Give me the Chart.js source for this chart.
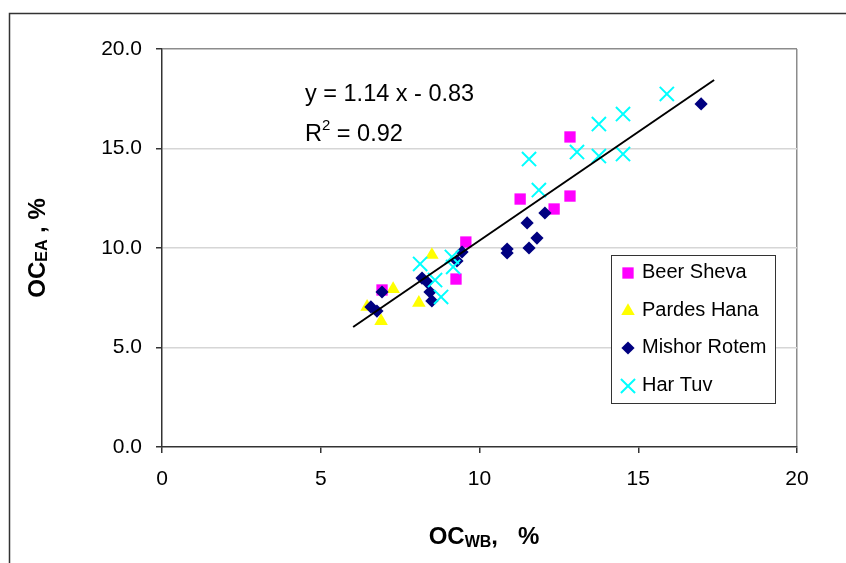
<!DOCTYPE html>
<html>
<head>
<meta charset="utf-8">
<script src="https://cdn.jsdelivr.net/npm/chart.js@4/dist/chart.umd.min.js"></script>
<style>
html,body{margin:0;padding:0;background:#fff;}
#wrap{width:846px;height:563px;position:relative;}
</style>
</head>
<body>
<div id="wrap"><canvas id="c" width="846" height="563"></canvas></div>
<script>
// ---- data ----
const beerShevaX = [6.93, 9.26, 9.57, 11.28, 12.35, 12.85, 12.85];
const beerShevaY = [7.89, 8.44, 10.3, 12.46, 11.96, 15.58, 12.61];

const pardesHanaX = [6.46, 6.9, 7.28, 8.09, 8.5];
const pardesHanaY = [7.04, 6.33, 7.94, 7.24, 9.65];

const mishorRotemX = [6.58, 6.77, 6.93, 8.19, 8.35, 8.44, 8.5, 9.29, 9.45, 10.87, 10.87, 11.5, 11.56, 11.81, 12.06, 16.98];
const mishorRotemY = [7.04, 6.83, 7.79, 8.49, 8.29, 7.79, 7.34, 9.35, 9.8, 9.95, 9.75, 11.26, 10.0, 10.5, 11.76, 17.24];

const harTuvX = [8.13, 8.6, 8.79, 9.13, 9.17, 11.56, 11.87, 13.07, 13.76, 13.76, 14.52, 14.52, 15.9];
const harTuvY = [9.2, 8.39, 7.54, 9.55, 9.05, 14.47, 12.91, 14.82, 16.23, 14.62, 16.73, 14.72, 17.74];

const trendX = [6.02, 17.39];
const trendY = [6.03, 18.44];

const seriesNames = ['Beer Sheva', 'Pardes Hana', 'Mishor Rotem', 'Har Tuv'];
const xTicks = [0, 5, 10, 15, 20];
const yTicks = [0, 5, 10, 15, 20];
const equationText = 'y = 1.14 x - 0.83';
const r2Value = '0.92';

function pts(xs, ys) { return xs.map((x, i) => ({x: x, y: ys[i]})); }

const FONT = "'Liberation Sans', Arial, sans-serif";

const styles = [
  {color: '#FF00FF', pointStyle: 'rect', radius: 8},
  {color: '#FFFF00', pointStyle: 'triangle', radius: 7.8},
  {color: '#000080', pointStyle: 'rectRot', radius: 6.6},
  {color: '#00FFFF', pointStyle: 'crossRot', radius: 10}
];

const seriesData = [
  pts(beerShevaX, beerShevaY),
  pts(pardesHanaX, pardesHanaY),
  pts(mishorRotemX, mishorRotemY),
  pts(harTuvX, harTuvY)
];

const datasets = seriesNames.map((name, i) => ({
  label: name,
  data: seriesData[i],
  order: 3 - i,
  showLine: false,
  pointStyle: styles[i].pointStyle,
  pointRadius: styles[i].radius,
  pointHoverRadius: styles[i].radius,
  backgroundColor: styles[i].color,
  borderColor: styles[i].color,
  borderWidth: styles[i].pointStyle === 'crossRot' ? 2 : 0
}));
datasets.push({
  label: 'trend',
  data: pts(trendX, trendY),
  order: -1,
  showLine: true,
  borderColor: '#000',
  borderWidth: 2,
  pointRadius: 0,
  fill: false
});

function drawShape(ctx, style, x, y) {
  ctx.save();
  ctx.fillStyle = style.color;
  ctx.strokeStyle = style.color;
  const r = style.radius;
  ctx.beginPath();
  if (style.pointStyle === 'rect') {
    const s = r * Math.SQRT1_2;
    ctx.rect(x - s, y - s, 2 * s, 2 * s);
    ctx.fill();
  } else if (style.pointStyle === 'triangle') {
    ctx.moveTo(x, y - r);
    ctx.lineTo(x + r * Math.sin(Math.PI / 3), y + r / 2);
    ctx.lineTo(x - r * Math.sin(Math.PI / 3), y + r / 2);
    ctx.closePath();
    ctx.fill();
  } else if (style.pointStyle === 'rectRot') {
    ctx.moveTo(x, y - r); ctx.lineTo(x + r, y); ctx.lineTo(x, y + r); ctx.lineTo(x - r, y);
    ctx.closePath();
    ctx.fill();
  } else {
    const s = r * Math.SQRT1_2;
    ctx.lineWidth = 2;
    ctx.moveTo(x - s, y - s); ctx.lineTo(x + s, y + s);
    ctx.moveTo(x + s, y - s); ctx.lineTo(x - s, y + s);
    ctx.stroke();
  }
  ctx.restore();
}

const decor = {
  id: 'decor',
  beforeDraw(chart) {
    const ctx = chart.ctx;
    ctx.save();
    ctx.fillStyle = '#fff';
    ctx.fillRect(0, 0, chart.width, chart.height);
    ctx.restore();
  },
  afterDraw(chart) {
    const ctx = chart.ctx;
    ctx.save();
    // outer frame
    ctx.strokeStyle = '#333';
    ctx.lineWidth = 1.5;
    ctx.beginPath();
    ctx.moveTo(9.5, 563); ctx.lineTo(9.5, 13.5); ctx.lineTo(846, 13.5);
    ctx.stroke();

    // equation
    ctx.fillStyle = '#000';
    ctx.textBaseline = 'middle';
    ctx.textAlign = 'left';
    ctx.font = '23.5px ' + FONT;
    ctx.fillText(equationText, 305, 95);
    let x = 305;
    ctx.fillText('R', x, 135);
    x += ctx.measureText('R').width;
    ctx.font = '15px ' + FONT;
    ctx.fillText('2', x, 126);
    x += ctx.measureText('2').width;
    ctx.font = '23.5px ' + FONT;
    ctx.fillText(' = ' + r2Value, x, 135);

    // x axis title
    const big = 'bold 24px ' + FONT, small = 'bold 16px ' + FONT;
    ctx.font = big; const w1 = ctx.measureText('OC').width;
    ctx.font = small; const w2 = ctx.measureText('WB').width;
    ctx.font = big; const w3 = ctx.measureText(',   %').width;
    let sx = 484 - (w1 + w2 + w3) / 2;
    ctx.font = big; ctx.fillText('OC', sx, 537); sx += w1;
    ctx.font = small; ctx.fillText('WB', sx, 543); sx += w2;
    ctx.font = big; ctx.fillText(',   %', sx, 537);

    // y axis title (rotated)
    ctx.save();
    ctx.translate(38, 248);
    ctx.rotate(-Math.PI / 2);
    ctx.font = big; const v1 = ctx.measureText('OC').width;
    ctx.font = small; const v2 = ctx.measureText('EA').width;
    ctx.font = big; const v3 = ctx.measureText(' , %').width;
    let vx = -(v1 + v2 + v3) / 2;
    ctx.font = big; ctx.fillText('OC', vx, 0); vx += v1;
    ctx.font = small; ctx.fillText('EA', vx, 5); vx += v2;
    ctx.font = big; ctx.fillText(' , %', vx, 0);
    ctx.restore();

    // legend
    ctx.fillStyle = '#fff';
    ctx.fillRect(611.5, 255.5, 164, 148);
    ctx.strokeStyle = '#333';
    ctx.lineWidth = 1;
    ctx.strokeRect(611.5, 255.5, 164, 148);
    const ly = [272, 310, 347, 385];
    ctx.font = '20px ' + FONT;
    seriesNames.forEach((n, i) => {
      drawShape(ctx, styles[i], 628, ly[i] + 1);
      ctx.fillStyle = '#000';
      ctx.fillText(n, 642, ly[i]);
    });
    ctx.restore();
  }
};

new Chart(document.getElementById('c'), {
  type: 'scatter',
  data: {datasets: datasets},
  plugins: [decor],
  options: {
    responsive: false,
    animation: false,
    events: [],
    layout: {padding: {left: 0, right: 49, top: 49, bottom: 0}},
    plugins: {legend: {display: false}, tooltip: {enabled: false}},
    scales: {
      x: {
        type: 'linear', min: 0, max: 20,
        afterBuildTicks: s => { s.ticks = xTicks.map(v => ({value: v})); },
        afterFit: s => { s.height = 116; },
        ticks: {color: '#000', font: {family: FONT, size: 21}, padding: 14, maxRotation: 0},
        grid: {
          drawOnChartArea: true,
          color: c => (c.tick && c.tick.value === 20) ? '#8c8c8c' : 'rgba(0,0,0,0)',
          tickColor: '#333', tickLength: 6, lineWidth: 1.5
        },
        border: {color: '#333', width: 1.5}
      },
      y: {
        type: 'linear', min: 0, max: 20,
        afterBuildTicks: s => { s.ticks = yTicks.map(v => ({value: v})); },
        afterFit: s => { s.width = 162; },
        ticks: {color: '#000', font: {family: FONT, size: 21}, padding: 14, callback: v => Number(v).toFixed(1)},
        grid: {
          color: c => {
            const v = c.tick && c.tick.value;
            if (v === 20) return '#8c8c8c';
            if (v === 0) return 'rgba(0,0,0,0)';
            return '#d6d6d6';
          },
          lineWidth: 1.5,
          tickColor: '#333', tickLength: 6
        },
        border: {color: '#333', width: 1.5}
      }
    }
  }
});
</script>
</body>
</html>
